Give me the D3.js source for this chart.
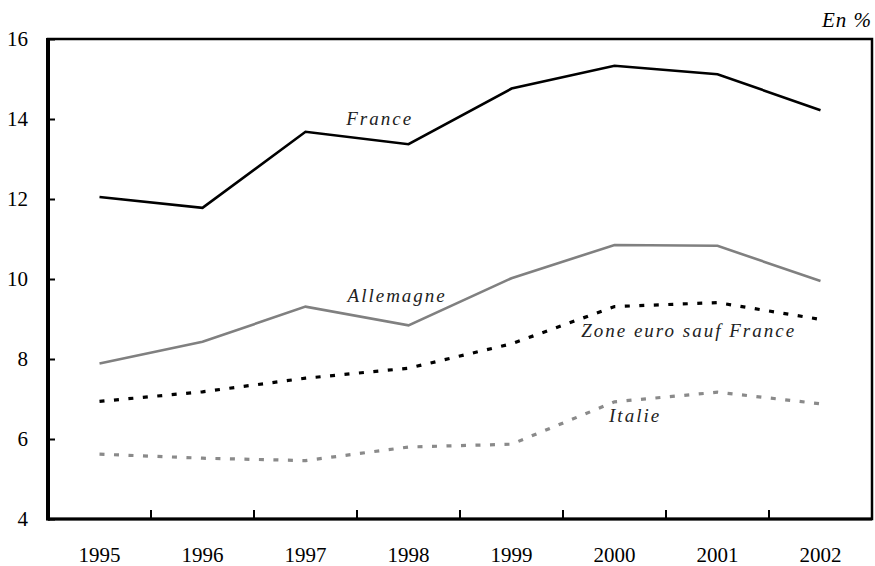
<!DOCTYPE html>
<html>
<head>
<meta charset="utf-8">
<script src="https://cdn.jsdelivr.net/npm/d3@7"></script>
<style>
  body { margin: 0; background: #fff; }
  svg { display: block; }
  svg text { font-family: 'Liberation Serif', 'Times New Roman', Times, serif; }
</style>
</head>
<body>
<svg id="chart" width="875" height="566"></svg>
<script>
// values
const years = ['1995', '1996', '1997', '1998', '1999', '2000', '2001', '2002'];
const france = [12.05, 11.78, 13.68, 13.37, 14.76, 15.33, 15.12, 14.22];
const allemagne = [7.89, 8.43, 9.31, 8.84, 10.02, 10.85, 10.83, 9.95];
const zoneEuro = [6.94, 7.18, 7.52, 7.77, 8.38, 9.31, 9.41, 8.99];
const italie = [5.62, 5.52, 5.46, 5.8, 5.87, 6.93, 7.17, 6.88];
const yTicks = [4, 6, 8, 10, 12, 14, 16];

const series = [
  { name: 'France', values: france, color: '#000', dash: null, width: 2.6 },
  { name: 'Allemagne', values: allemagne, color: '#808080', dash: null, width: 2.6 },
  { name: 'Zone euro sauf France', values: zoneEuro, color: '#000', dash: '5,9.5', width: 3.2 },
  { name: 'Italie', values: italie, color: '#8a8a8a', dash: '5,9.5', width: 3.2 }
];

// where each series name sits: position along the years (index) and value
const labels = [
  { text: 'France', at: 2.72, v: 13.85 },
  { text: 'Allemagne', at: 2.89, v: 9.43 },
  { text: 'Zone euro sauf France', at: 5.72, v: 8.55 },
  { text: 'Italie', at: 5.2, v: 6.43 }
];

const plot = { left: 48, right: 872, top: 39, bottom: 519 };
const serif = "'Liberation Serif', 'Times New Roman', Times, serif";
const svg = d3.select('#chart');

const x = d3.scaleBand().domain(years).range([plot.left, plot.right]);
const bw = x.bandwidth();
const xc = d => x(d) + bw / 2;
const xi = d3.scaleLinear().domain([0, years.length - 1]).range([xc(years[0]), xc(years[years.length - 1])]);
const y = d3.scaleLinear().domain([4, 16]).range([plot.bottom, plot.top]);

// y axis, ticks pointing inward
const yAxis = svg.append('g')
  .attr('transform', `translate(${plot.left},0)`)
  .call(d3.axisLeft(y).tickValues(yTicks).tickSize(-7).tickPadding(20));
yAxis.attr('font-family', serif).attr('font-size', 21);
yAxis.select('.domain').remove();
yAxis.selectAll('.tick line').attr('stroke', '#000').attr('stroke-width', 2);
yAxis.selectAll('.tick text').attr('fill', '#000');

// x: ticks between categories, labels centred
svg.append('g').selectAll('line')
  .data(years.slice(1))
  .join('line')
  .attr('x1', d => x(d)).attr('x2', d => x(d))
  .attr('y1', plot.bottom).attr('y2', plot.bottom - 9)
  .attr('stroke', '#000').attr('stroke-width', 2);

svg.append('g').selectAll('text')
  .data(years)
  .join('text')
  .attr('x', d => xc(d))
  .attr('y', 562)
  .attr('text-anchor', 'middle')
  .attr('font-family', serif)
  .attr('font-size', 21)
  .text(d => d);

// frame
svg.append('rect')
  .attr('x', plot.left).attr('y', plot.top)
  .attr('width', plot.right - plot.left).attr('height', plot.bottom - plot.top)
  .attr('fill', 'none').attr('stroke', '#000').attr('stroke-width', 2.5);
svg.append('line')
  .attr('x1', plot.left).attr('x2', plot.left).attr('y1', plot.top - 1).attr('y2', plot.bottom + 1.5)
  .attr('stroke', '#000').attr('stroke-width', 4);
svg.append('line')
  .attr('x1', plot.left).attr('x2', plot.right).attr('y1', plot.bottom).attr('y2', plot.bottom)
  .attr('stroke', '#000').attr('stroke-width', 3);

const line = d3.line()
  .x((d, i) => xc(years[i]))
  .y(d => y(d));

svg.append('g').selectAll('path')
  .data(series)
  .join('path')
  .attr('d', d => line(d.values))
  .attr('fill', 'none')
  .attr('stroke', d => d.color)
  .attr('stroke-width', d => d.width)
  .attr('stroke-dasharray', d => d.dash)
  .attr('stroke-linejoin', 'miter');

svg.append('g').selectAll('text')
  .data(labels)
  .join('text')
  .attr('x', d => xi(d.at))
  .attr('y', d => y(d.v))
  .attr('text-anchor', 'middle')
  .attr('font-family', serif)
  .attr('font-style', 'italic')
  .attr('font-size', 19)
  .attr('letter-spacing', 2)
  .attr('fill', '#222')
  .text(d => d.text);

svg.append('text')
  .attr('x', plot.right)
  .attr('y', 27)
  .attr('text-anchor', 'end')
  .attr('font-family', serif)
  .attr('font-style', 'italic')
  .attr('font-size', 21)
  .attr('letter-spacing', 1)
  .text('En %');
</script>
</body>
</html>
